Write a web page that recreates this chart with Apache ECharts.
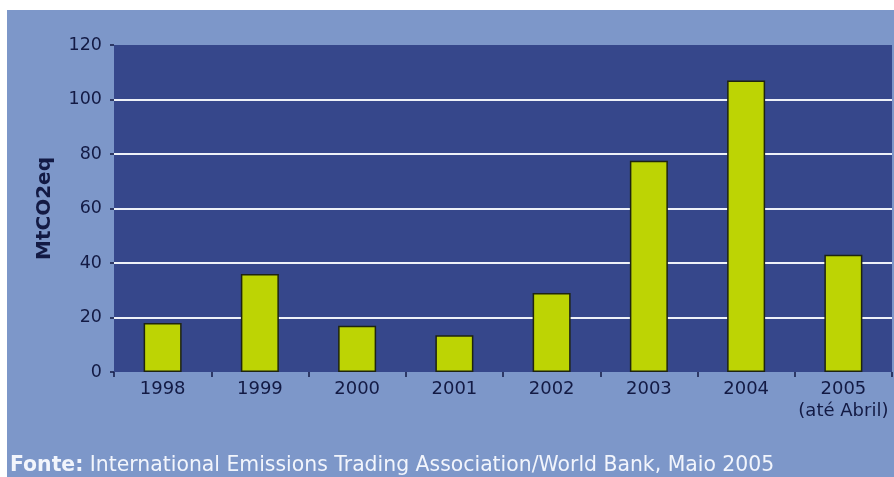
<!DOCTYPE html>
<html>
<head>
<meta charset="utf-8">
<script src="https://cdn.jsdelivr.net/npm/echarts@6/dist/echarts.min.js"></script>
<style>
  html, body { margin: 0; padding: 0; background: #ffffff; }
  #chart { width: 894px; height: 477px; }
</style>
</head>
<body>
<div id="chart"></div>
<script>
// Créditos de carbono transaccionados por ano (MtCO2eq)
const years = ['1998', '1999', '2000', '2001', '2002', '2003', '2004', '2005\n(até Abril)'];
const volumes = [18, 36, 17, 13.5, 29, 77.5, 107, 43];
const yTicks = { min: 0, max: 120, interval: 20 };
const yName = 'MtCO2eq';
const sourceLabel = 'Fonte:';
const sourceText = ' International Emissions Trading Association/World Bank, Maio 2005';

const textColor = '#131a44';
const font = 'DejaVu Sans, Verdana, sans-serif';

const chart = echarts.init(document.getElementById('chart'), null, { renderer: 'canvas' });

chart.setOption({
  animation: false,
  backgroundColor: '#ffffff',
  graphic: [
    {
      type: 'rect',
      z: -10,
      shape: { x: 7, y: 10, width: 887, height: 467 },
      style: { fill: '#7d97c9' }
    },
    {
      type: 'text',
      left: 10,
      top: 456,
      style: {
        text: '{b|' + sourceLabel + '}{n|' + sourceText + '}',
        rich: {
          b: { fontFamily: font, fontSize: 20.4, fontWeight: 'bold', fill: '#f2f5fc' },
          n: { fontFamily: font, fontSize: 20.4, fill: '#f2f5fc' }
        }
      }
    }
  ],
  grid: {
    left: 114,
    right: 2,
    top: 45,
    bottom: 105,
    show: true,
    backgroundColor: '#36478b',
    borderWidth: 0
  },
  xAxis: {
    type: 'category',
    data: years,
    axisLine: { show: false },
    axisTick: { show: true, length: 5, alignWithLabel: false, interval: 0, lineStyle: { color: textColor, width: 1.5 } },
    axisLabel: {
      interval: 0,
      color: textColor,
      fontFamily: font,
      fontSize: 18,
      margin: 6,
      lineHeight: 22
    }
  },
  yAxis: {
    type: 'value',
    min: yTicks.min,
    max: yTicks.max,
    interval: yTicks.interval,
    name: yName,
    nameLocation: 'middle',
    nameGap: 59,
    nameRotate: 90,
    nameTextStyle: { color: textColor, fontFamily: font, fontSize: 20, fontWeight: 'bold' },
    axisLine: { show: false },
    axisTick: { show: true, length: 4, lineStyle: { color: textColor, width: 1.5 } },
    axisLabel: { color: textColor, fontFamily: font, fontSize: 17.5, margin: 12 },
    splitLine: {
      show: true,
      lineStyle: {
        width: 2,
        color: ['rgba(0,0,0,0)', '#eef1f8', '#eef1f8', '#eef1f8', '#eef1f8', '#eef1f8', 'rgba(0,0,0,0)']
      }
    }
  },
  series: [
    {
      type: 'bar',
      data: volumes,
      barWidth: 38,
      itemStyle: { color: '#bdd404', borderColor: '#1e2410', borderWidth: 1.5 }
    }
  ]
});
</script>
</body>
</html>
